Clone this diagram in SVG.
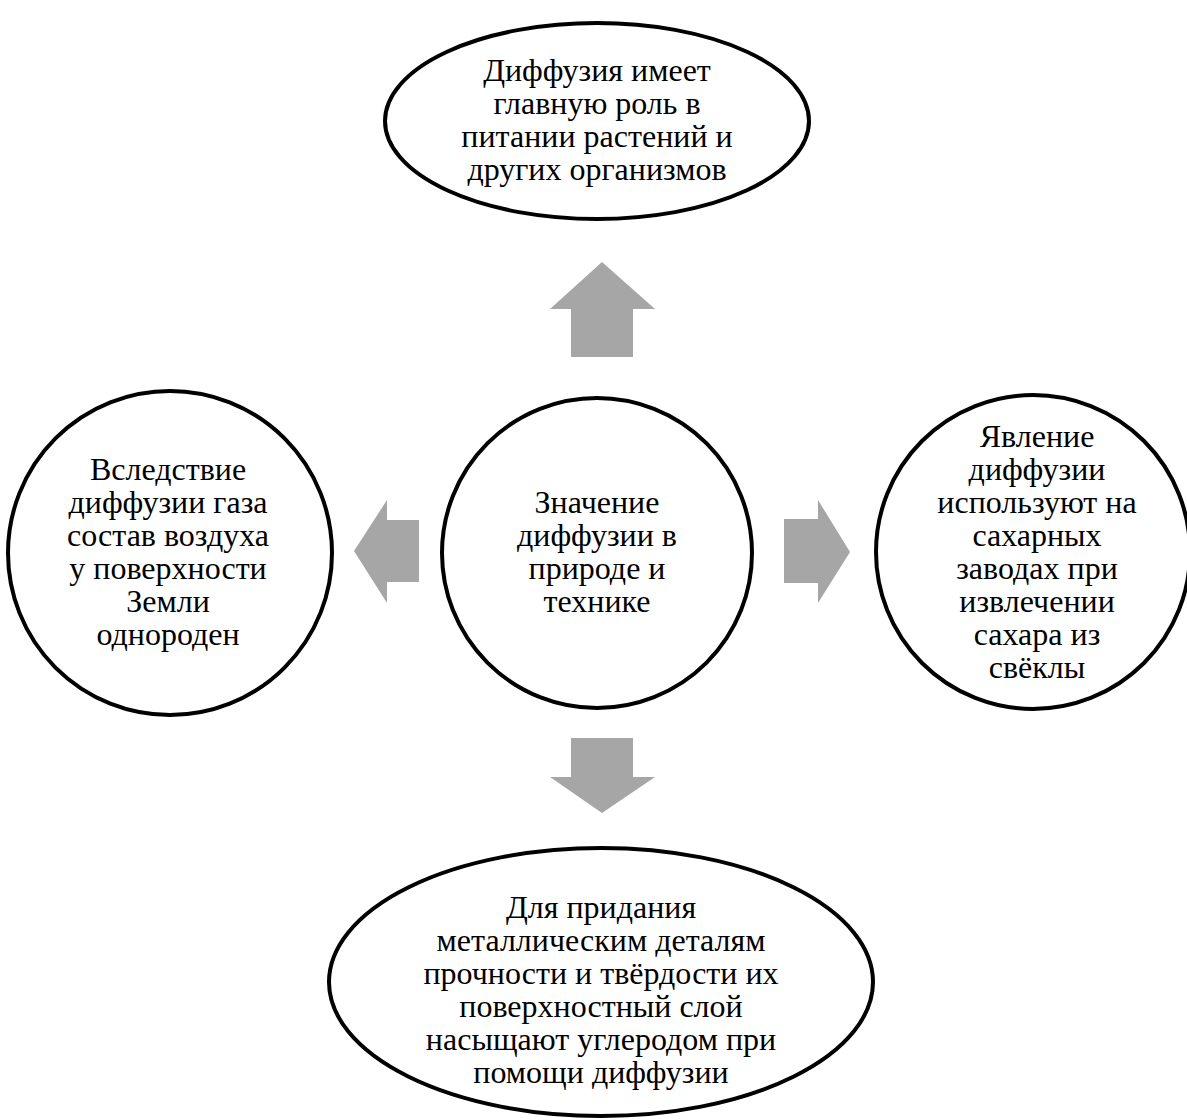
<svg xmlns="http://www.w3.org/2000/svg" width="1187" height="1120" viewBox="0 0 1187 1120">
<style>
.shape{fill:#ffffff;stroke:#000000;stroke-width:4}
.arrow{fill:#a6a6a6;stroke:none}
</style>
<rect width="1187" height="1120" fill="#ffffff"/>
<g id="connectors">
<polygon class="arrow" points="602,262 655,309 633,309 633,357 571,357 571,309 550,309"/>
<polygon class="arrow" points="354,551 387,500 387,520 419,520 419,582 387,582 387,603"/>
<polygon class="arrow" points="850,552 818,500 818,519 784,519 784,583 818,583 818,603"/>
<polygon class="arrow" points="602,813 655,777 633,777 633,738 571,738 571,777 550,777"/>
</g>
<g font-family="Liberation Serif, Times New Roman, serif" font-size="32" fill="#000000" text-anchor="middle">
<g id="node-top">
<ellipse class="shape" cx="597" cy="121" rx="212" ry="98"/>
<text x="597" y="81">Диффузия имеет</text>
<text x="597" y="114">главную роль в</text>
<text x="597" y="147">питании растений и</text>
<text x="597" y="180">других организмов</text>
</g>
<g id="node-center">
<circle class="shape" cx="597" cy="553" r="155"/>
<text x="597" y="513">Значение</text>
<text x="597" y="546">диффузии в</text>
<text x="597" y="579">природе и</text>
<text x="597" y="612">технике</text>
</g>
<g id="node-left">
<circle class="shape" cx="170" cy="553" r="162"/>
<text x="168" y="480">Вследствие</text>
<text x="168" y="513">диффузии газа</text>
<text x="168" y="546">состав воздуха</text>
<text x="168" y="579">у поверхности</text>
<text x="168" y="612">Земли</text>
<text x="168" y="645">однороден</text>
</g>
<g id="node-right">
<circle class="shape" cx="1033" cy="552" r="157"/>
<text x="1037" y="447">Явление</text>
<text x="1037" y="480">диффузии</text>
<text x="1037" y="513">используют на</text>
<text x="1037" y="546">сахарных</text>
<text x="1037" y="579">заводах при</text>
<text x="1037" y="612">извлечении</text>
<text x="1037" y="645">сахара из</text>
<text x="1037" y="678">свёклы</text>
</g>
<g id="node-bottom">
<ellipse class="shape" cx="601" cy="982" rx="272" ry="134"/>
<text x="601" y="918">Для придания</text>
<text x="601" y="951">металлическим деталям</text>
<text x="601" y="984">прочности и твёрдости их</text>
<text x="601" y="1017">поверхностный слой</text>
<text x="601" y="1050">насыщают углеродом при</text>
<text x="601" y="1083">помощи диффузии</text>
</g>
</g>
</svg>
